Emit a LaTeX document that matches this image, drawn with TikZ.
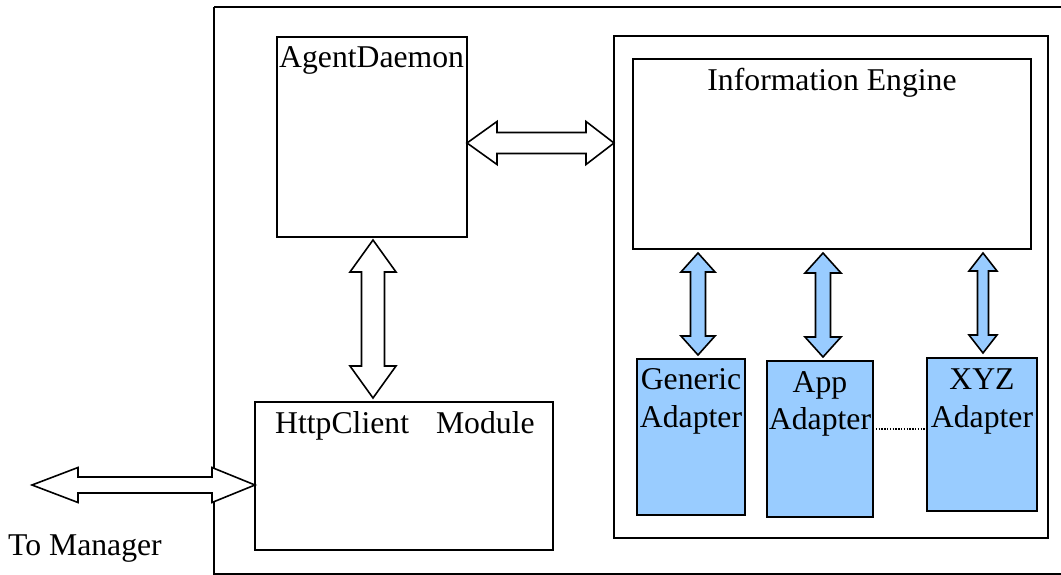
\documentclass[tikz,border=0pt]{standalone}
\usepackage{fontspec}
\setmainfont{Liberation Serif}
\usetikzlibrary{calc}
\definecolor{adblue}{HTML}{99CCFF}
\tikzset{
  box/.style={draw=black, line width=1.6pt, anchor=north west, inner sep=0pt, outer sep=0pt},
  bluebox/.style={box, fill=adblue},
  lbl/.style={inner sep=0pt, font=\fontsize{31.7}{38}\selectfont},
  fatarrow/.style={draw=black, line width=1.6pt, fill=white, line join=miter},
  bluearrow/.style={fatarrow, fill=adblue},
}
% vertical double arrow between two named coordinates (top, bottom)
\newcommand{\vdarrow}[6]{%
  \path[#3] let \p1=(#1), \p2=(#2) in
    (\x1,\y1) -- (\x1+#5,\y1-#4) -- (\x1+#6,\y1-#4) -- (\x1+#6,\y2+#4) --
    (\x1+#5,\y2+#4) -- (\x1,\y2) -- (\x1-#5,\y2+#4) -- (\x1-#6,\y2+#4) --
    (\x1-#6,\y1-#4) -- (\x1-#5,\y1-#4) -- cycle;}
% horizontal double arrow between two named coordinates (left, right)
\newcommand{\hdarrow}[7]{%
  \path[#3] let \p1=(#1), \p2=(#2) in
    (\x1,\y1) -- (\x1+#4,\y1+#6) -- (\x1+#4,\y1+#7) -- (\x2-#5,\y1+#7) --
    (\x2-#5,\y1+#6) -- (\x2,\y1) -- (\x2-#5,\y1-#6) -- (\x2-#5,\y1-#7) --
    (\x1+#4,\y1-#7) -- (\x1+#4,\y1-#6) -- cycle;}
\begin{document}
\begin{tikzpicture}[x=1pt,y=-1pt]
\clip (0,0) rectangle (1061,575);
\fill[white] (0,0) rectangle (1061,575);

% outer frame (runs off the right edge)
\draw[line width=1.6pt] (214,7) -- (1080,7) (214,7) -- (214,574) -- (1080,574);

% boxes
\node[box, minimum width=190pt, minimum height=200pt] (ad) at (277,37) {};
\node[box, minimum width=434pt, minimum height=502pt] (cont) at (614,36) {};
\node[box, minimum width=398pt, minimum height=190pt] (ie) at (633,59) {};
\node[box, minimum width=298pt, minimum height=148pt] (http) at (255,402) {};
\node[bluebox, minimum width=108pt, minimum height=156pt] (gen) at (637,359) {};
\node[bluebox, minimum width=106pt, minimum height=156pt] (app) at (767,361) {};
\node[bluebox, minimum width=110pt, minimum height=153pt] (xyz) at (927,358) {};

% labels
\node[lbl, anchor=base west] (tad) at ($(ad.north west)+(2,31)$) {AgentDaemon};
\node[lbl, anchor=base] (tie) at ($(ie.north)+(0,32)$) {Information Engine};
\node[lbl, anchor=base west] (thttp) at ($(http.north west)+(20,31)$) {HttpClient\hspace{27pt}Module};
\node[lbl, anchor=base west] (tmgr) at (8,555) {To Manager};
\node[lbl, anchor=base] (tgen1) at ($(gen.north)+(0,30)$) {Generic};
\node[lbl, anchor=base] (tgen2) at ($(gen.north)+(0,68)$) {Adapter};
\node[lbl, anchor=base] (tapp1) at ($(app.north)+(0,31)$) {App};
\node[lbl, anchor=base] (tapp2) at ($(app.north)+(0,68)$) {Adapter};
\node[lbl, anchor=base] (txyz1) at ($(xyz.north)+(0,31)$) {XYZ};
\node[lbl, anchor=base] (txyz2) at ($(xyz.north)+(0,69)$) {Adapter};

% AgentDaemon <-> Information Engine container
\path (ad.east) ++(0,6) coordinate (h1);
\path (h1 -| cont.west) coordinate (h2);
\hdarrow{h1}{h2}{fatarrow}{30pt}{28pt}{21.5pt}{10.5pt}

% AgentDaemon <-> HttpClient Module
\path (ad.south) ++(1,3) coordinate (v1);
\path (v1 |- http.north) ++(0,-4) coordinate (v2);
\vdarrow{v1}{v2}{fatarrow}{32pt}{23pt}{11.5pt}

% To Manager <-> HttpClient Module
\path (http.west) ++(0,9) coordinate (m2);
\coordinate (m1) at (32,485);
\hdarrow{m1}{m2}{fatarrow}{46pt}{43pt}{17.5pt}{8pt}

% Information Engine <-> adapters
\path (gen.north) ++(7,-4) coordinate (g2);
\path (g2 |- ie.south) ++(0,4) coordinate (g1);
\vdarrow{g1}{g2}{bluearrow}{19pt}{17pt}{7.5pt}
\path (app.north) ++(3,-4) coordinate (a2);
\path (a2 |- ie.south) ++(0,4) coordinate (a1);
\vdarrow{a1}{a2}{bluearrow}{20pt}{18pt}{7.5pt}
\path (xyz.north) ++(1,-5) coordinate (x2);
\path (x2 |- ie.south) ++(0,4) coordinate (x1);
\vdarrow{x1}{x2}{bluearrow}{18pt}{14pt}{5.5pt}

% dotted link between App Adapter and XYZ Adapter
\path (app.east) ++(0,-10) coordinate (d1);
\draw[line width=1.4pt, dash pattern=on 1.4pt off 1.4pt] (d1) -- (d1 -| xyz.west);
\end{tikzpicture}
\end{document}
